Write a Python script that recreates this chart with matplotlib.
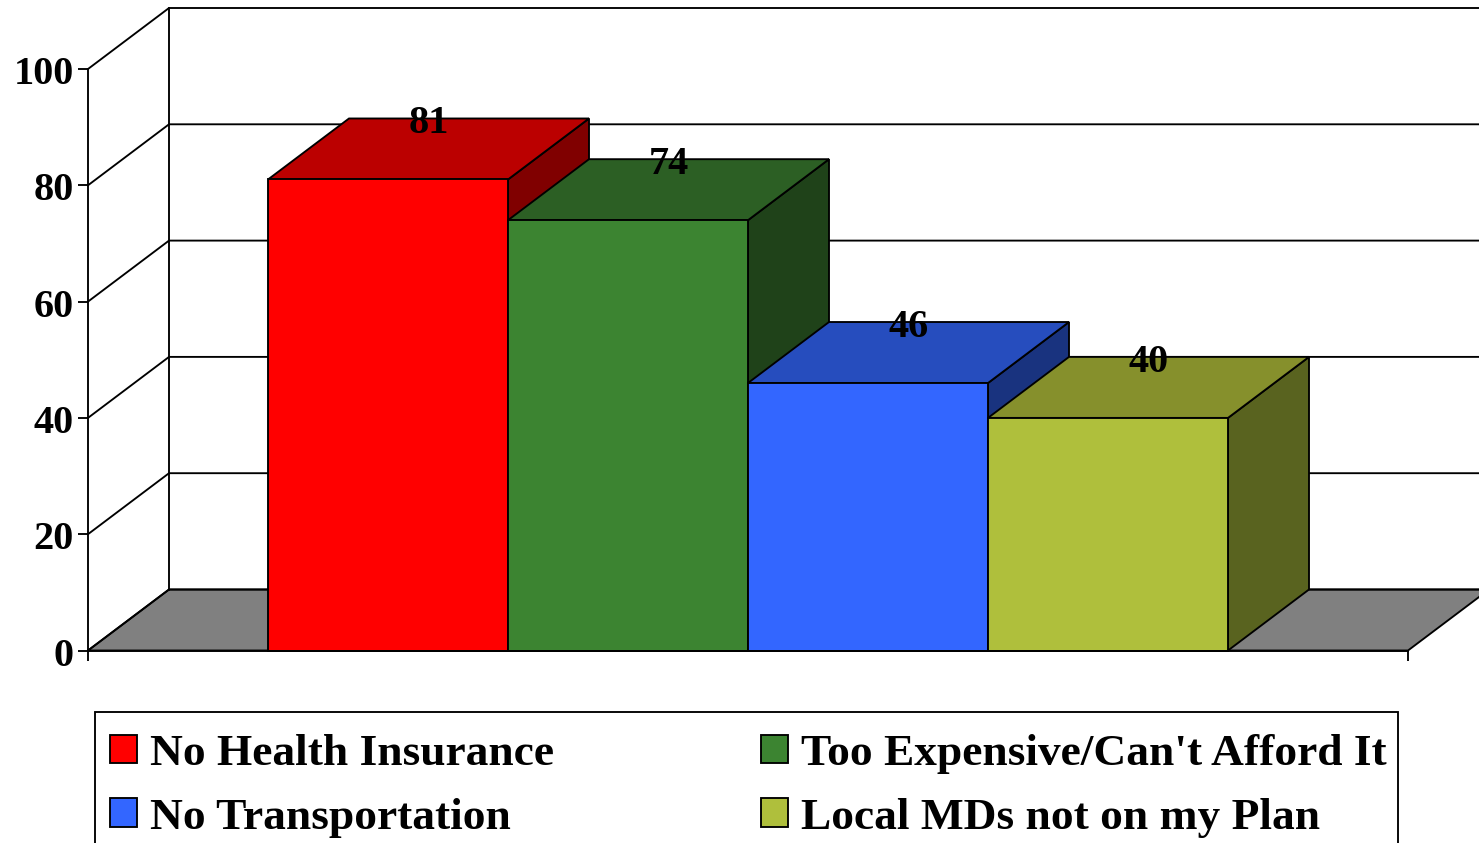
import matplotlib
matplotlib.use('Agg')
import matplotlib.pyplot as plt
from matplotlib.patches import Patch, Rectangle
from matplotlib.transforms import ScaledTranslation

categories = ['No Health Insurance', "Too Expensive/Can't Afford It",
              'No Transportation', 'Local MDs not on my Plan']
values = [81, 74, 46, 40]
y_ticks = [0, 20, 40, 60, 80, 100]

front_colors = ['#FF0000', '#3C8431', '#3366FF', '#AFBF3C']
top_colors = ['#BB0000', '#2C5F24', '#264DBE', '#86902C']
side_colors = ['#800000', '#1F4219', '#19337F', '#59631F']

W, H = 1479, 843
LW = 1.35
# depth of the fake 3d box, in data units
DX = 81 / 240
DY = 61 / 5.815

plt.rcParams['font.family'] = ['Liberation Serif']
plt.rcParams['font.weight'] = 'bold'

fig = plt.figure(figsize=(W / 100, H / 100), dpi=100)
ax = fig.add_axes([88 / W, (H - 650.5) / H, 1320 / W, 581.5 / H])
ax.patch.set_visible(False)
ax.set_xlim(-0.75, 4.75)
ax.set_ylim(0, 100)

x0, x1 = ax.get_xlim()

# floor
ax.fill([x0, x1, x1 + DX, x0 + DX], [0, 0, DY, DY], facecolor='#808080',
        edgecolor='black', lw=LW, clip_on=False, zorder=1)

# walls and grid
for t in y_ticks:
    ax.plot([x0, x0 + DX, x1 + DX], [t, t + DY, t + DY], color='black',
            lw=LW, clip_on=False, zorder=1.5)
ax.plot([x0 + DX, x0 + DX], [DY, 100 + DY], color='black', lw=LW,
        clip_on=False, zorder=1.5)

# bars
for i, v in enumerate(values):
    z = 2 + i
    ax.fill([i + 1, i + 1 + DX, i + 1 + DX, i + 1], [0, DY, v + DY, v],
            facecolor=side_colors[i], edgecolor='black', lw=LW, clip_on=False, zorder=z)
    ax.fill([i, i + 1, i + 1 + DX, i + DX], [v, v, v + DY, v + DY],
            facecolor=top_colors[i], edgecolor='black', lw=LW, clip_on=False, zorder=z)
    ax.bar(i, v, width=1, align='edge', color=front_colors[i], edgecolor='black',
           linewidth=LW, clip_on=False, zorder=z)
    ax.text(i + 0.5 + DX / 2, v + DY - 0.93, str(v), ha='center', va='center',
            fontsize=29, zorder=10)

for s in ['top', 'right']:
    ax.spines[s].set_visible(False)
for s in ['left', 'bottom']:
    ax.spines[s].set_linewidth(LW)
    ax.spines[s].set_zorder(8)

ax.set_yticks(y_ticks)
ax.set_xticks([x0, x1])
ax.set_xticklabels([])
ax.tick_params(axis='both', length=7.2, width=LW, labelsize=29, pad=3)

# labels sit a little lower than the ticks
shift = ScaledTranslation(0, -1 / 100, fig.dpi_scale_trans)
for lab in ax.get_yticklabels():
    lab.set_transform(lab.get_transform() + shift)

# legend box runs off the bottom of the picture
fig.add_artist(Rectangle((95 / W, -0.05), (1398 - 95) / W, 1 - 712 / H + 0.05,
                         transform=fig.transFigure, facecolor='white',
                         edgecolor='black', linewidth=LW, zorder=-1))

handles = [Patch(facecolor=c, edgecolor='black', linewidth=LW) for c in front_colors]
# legend fills row by row in the original: swap so ncol=2 gives that order
order = [0, 2, 1, 3]
leg = ax.legend([handles[i] for i in order], [categories[i] for i in order],
                ncol=2, loc='upper left',
                bbox_to_anchor=(110 / W, 1 - 734 / H), bbox_transform=fig.transFigure,
                borderaxespad=0, borderpad=0, fontsize=32.7, frameon=False,
                handlelength=0.6, handleheight=0.6, handletextpad=0.29,
                columnspacing=4.54, labelspacing=0.52)
leg.set_zorder(20)

fig.savefig('out.png', dpi=100)
